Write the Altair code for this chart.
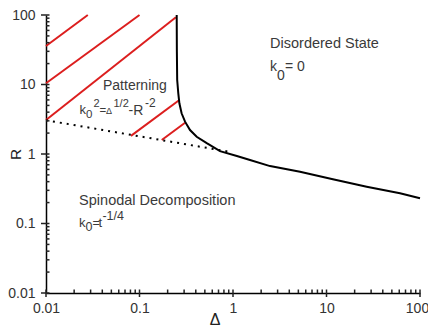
import altair as alt
import pandas as pd

# ---- data ----
curve_delta = [0.250, 0.251, 0.253, 0.260, 0.267, 0.282, 0.307, 0.347, 0.409, 0.524,
               0.726, 1.10, 1.52, 2.49, 5.21, 11.7, 26.9, 61.1, 100]
curve_r = [100, 30, 11.6, 7.47, 5.36, 3.85, 2.92, 2.21, 1.77, 1.43,
           1.10, 0.936, 0.82, 0.67, 0.556, 0.432, 0.338, 0.272, 0.231]

dotted_delta = [0.01, 0.87]
dotted_r = [3.06, 1.09]

hatch_id = [1, 1, 2, 2, 3, 3, 4, 4, 5, 5]
hatch_delta = [0.01, 0.028, 0.01, 0.1, 0.01, 0.245, 0.081, 0.267, 0.173, 0.307]
hatch_r = [35.8, 100, 10.4, 100, 3.08, 92.7, 1.82, 5.98, 1.59, 2.82]

major_ticks = [0.01, 0.1, 1, 10, 100]
minor_ticks = [m * d for d in [0.01, 0.1, 1, 10] for m in range(2, 10)]
tick_values = sorted(major_ticks + minor_ticks)

annot_text = ["Disordered State", "Patterning", "Spinodal Decomposition"]
annot_x = [2.49, 0.0407, 0.0226]
annot_y = [33.5, 8.2, 0.185]

# formula anchors (left edge / baseline of the leading "k")
k_disordered = (2.49, 15.4)
k_pattern = (0.0228, 3.75)
k_spinodal = (0.0225, 0.090)

FONT = "Liberation Sans"
TXT = "#3a3a3a"
RED = "#dc1e1e"
TICK = "#222222"
PLOT_W, PLOT_H = 374, 278

xscale = alt.Scale(type="log", domain=[0.01, 100], nice=False)
yscale = alt.Scale(type="log", domain=[0.01, 100], nice=False)

xaxis = alt.Axis(
    title="Δ", values=major_ticks, format="~g", ticks=False,
    labelOffset={"expr": "datum.value >= 99 ? -3 : 0"},
    labelPadding=8, labelFlush=False, labelOverlap=False,
    labelFont=FONT, labelFontSize=14, labelColor="#333333",
    titleFont=FONT, titleFontSize=16, titleFontWeight="normal", titleColor="#222222",
    titleX=168.5, titleY=31.5, titleBaseline="alphabetic", titleAlign="center",
    domainColor="black", domainWidth=1.5, grid=False,
)
yaxis = alt.Axis(
    title="R", values=major_ticks, format="~g", ticks=False,
    labelPadding=11, labelFlush=False, labelOverlap=False,
    labelFont=FONT, labelFontSize=14, labelColor="#333333",
    titleFont=FONT, titleFontSize=15.5, titleFontWeight="normal", titleColor="#222222",
    titleX=-25.5, titleY=139, titleAngle=270, titleBaseline="alphabetic", titleAlign="center",
    domainColor="black", domainWidth=1.5, grid=False,
)

X = alt.X("x:Q", scale=xscale, axis=xaxis)
Y = alt.Y("y:Q", scale=yscale, axis=yaxis)

curve_df = pd.DataFrame({"x": curve_delta, "y": curve_r, "o": list(range(len(curve_r)))})
dotted_df = pd.DataFrame({"x": dotted_delta, "y": dotted_r})
hatch_df = pd.DataFrame({"x": hatch_delta, "y": hatch_r, "seg": hatch_id})

hatch = alt.Chart(hatch_df).mark_line(color=RED, strokeWidth=2).encode(
    x=X, y=Y, detail="seg:N")
dotted = alt.Chart(dotted_df).mark_line(color="black", strokeWidth=2, strokeDash=[2, 5]).encode(
    x=X, y=Y)
curve = alt.Chart(curve_df).mark_line(color="black", strokeWidth=2).encode(
    x=X, y=Y, order="o:Q")

# axis ticks: short inner ticks at every log step, outer ticks at the decades
x_inner = alt.Chart(pd.DataFrame({"x": tick_values})).mark_rule(color=TICK, strokeWidth=1.5).encode(
    x=X, y=alt.value(PLOT_H), y2=alt.value(PLOT_H - 3.5))
x_outer = alt.Chart(pd.DataFrame({"x": major_ticks})).mark_rule(color=TICK, strokeWidth=1.5).encode(
    x=X, y=alt.value(PLOT_H), y2=alt.value(PLOT_H + 4))
y_inner = alt.Chart(pd.DataFrame({"y": tick_values})).mark_rule(color=TICK, strokeWidth=1.5).encode(
    y=Y, x=alt.value(0), x2=alt.value(3.5))
y_outer = alt.Chart(pd.DataFrame({"y": major_ticks})).mark_rule(color=TICK, strokeWidth=1.5).encode(
    y=Y, x=alt.value(0), x2=alt.value(-5))


def piece(text, anchor, dx, dy, size):
    df = pd.DataFrame({"x": [anchor[0]], "y": [anchor[1]], "t": [text]})
    return alt.Chart(df).mark_text(
        align="left", baseline="alphabetic", dx=dx, dy=dy,
        fontSize=size, font=FONT, color=TXT,
    ).encode(x=X, y=Y, text="t:N")


texts = []
for t, ax, ay, s in zip(annot_text, annot_x, annot_y, [14.5, 14, 14.5]):
    texts.append(piece(t, (ax, ay), 0, 0, s))

# k0= 0
texts += [
    piece("k", k_disordered, 0, 0, 14),
    piece("0", k_disordered, 7, 8.3, 14),
    piece("= 0", k_disordered, 15, 0, 14),
]
# k0^2 = Δ^(1/2) - R^(-2)
texts += [
    piece("k", k_pattern, 0, 0, 13),
    piece("0", k_pattern, 6.5, 4, 11.5),
    piece("2", k_pattern, 14, -7.3, 11),
    piece("=", k_pattern, 20, 0, 11.5),
    piece("Δ", k_pattern, 26.5, 0, 9),
    piece("1/2", k_pattern, 34, -7, 11),
    piece("-R", k_pattern, 49, 1, 14),
    piece("-2", k_pattern, 65.5, -7.3, 12),
]
# k0 = t^(-1/4)
texts += [
    piece("k", k_spinodal, 0, 0, 13),
    piece("0", k_spinodal, 6.5, 4.3, 12.5),
    piece("=", k_spinodal, 13.5, 0, 12.5),
    piece("t", k_spinodal, 19.5, 0, 13),
    piece("-1/4", k_spinodal, 23.5, -6.7, 12.5),
]

chart = alt.layer(hatch, dotted, curve, x_inner, x_outer, y_inner, y_outer, *texts).properties(
    width=PLOT_W, height=PLOT_H,
    padding={"left": 38, "top": 7, "right": 8, "bottom": 34},
    autosize=alt.AutoSizeParams(type="none"),
).configure_view(stroke=None).configure_axis(grid=False)

chart.save("out.html", embed_options={"renderer": "svg", "actions": False})
